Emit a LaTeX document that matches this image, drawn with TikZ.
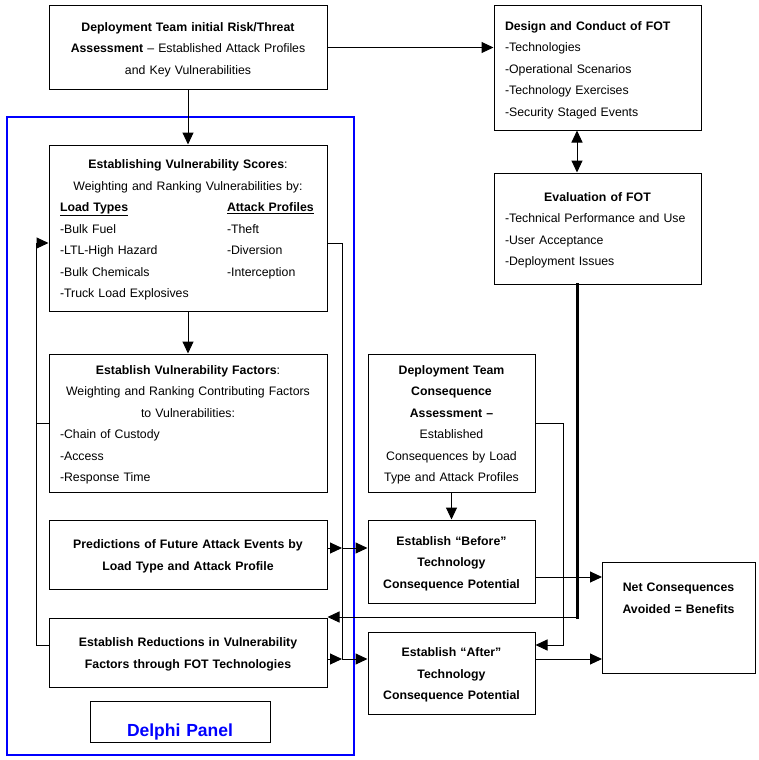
\documentclass[tikz,border=0pt]{standalone}
\usepackage{fontspec}
\setmainfont{Liberation Sans}
\usetikzlibrary{arrows.meta}
\newcommand{\lft}[1]{\makebox[\hsize][l]{#1}}
\newcommand{\twocol}[2]{\lft{\makebox[167pt][l]{#1}#2}}

\begin{document}
\begin{tikzpicture}[x=1pt,y=-1pt]
    \tikzset{
        tri/.tip={Triangle[length=12pt,width=11pt]},
        box/.style 2 args={draw, line width=1pt, rectangle, inner xsep=11pt, inner ysep=0pt,
            align=center, text width=#1, minimum height=#2, font=\fontsize{12.3}{21.5}\selectfont,
            execute at begin node=\rule{0pt}{13pt}},
        flow/.style={line width=1pt, -tri},
        link/.style={line width=1pt}
    }
    \useasboundingbox (0,0) rectangle (759,760);
    \draw[blue, line width=2pt] (7,117) rectangle (354,755);

    \node[box={256pt}{83pt}] (risk) at (188,47.5)
        {\textbf{Deployment Team initial Risk/Threat}\\ \textbf{Assessment} – Established Attack Profiles\\ and Key Vulnerabilities};
    \node[box={185pt}{124pt}, align=left] (design) at (597.5,68)
        {\textbf{Design and Conduct of FOT}\\ -Technologies\\ -Operational Scenarios\\ -Technology Exercises\\ -Security Staged Events};
    \node[box={185pt}{111pt}, align=left] (eval) at (597.5,228.5)
        {\hfill\textbf{Evaluation of FOT}\hfill\mbox{}\\ -Technical Performance and Use\\ -User Acceptance\\ -Deployment Issues};
    \node[box={256pt}{166pt}] (scores) at (188,228)
        {\textbf{Establishing Vulnerability Scores}:\\ Weighting and Ranking Vulnerabilities by:\\
        \twocol{\textbf{\underline{Load Types}}}{\textbf{\underline{Attack Profiles}}}\\
        \twocol{-Bulk Fuel}{-Theft}\\ \twocol{-LTL-High Hazard}{-Diversion}\\
        \twocol{-Bulk Chemicals}{-Interception}\\ \lft{-Truck Load Explosives}};
    \node[box={256pt}{138pt}] (factors) at (188,423)
        {\textbf{Establish Vulnerability Factors}:\\ Weighting and Ranking Contributing Factors\\ to Vulnerabilities:\\
        \lft{-Chain of Custody}\\ \lft{-Access}\\ \lft{-Response Time}};
    \node[box={256pt}{69pt}] (predict) at (188,554.5)
        {\textbf{Predictions of Future Attack Events by}\\ \textbf{Load Type and Attack Profile}};
    \node[box={256pt}{69pt}] (reduce) at (188,652.5)
        {\textbf{Establish Reductions in Vulnerability}\\ \textbf{Factors through FOT Technologies}};
    \node[box={158pt}{41pt}, text height=33pt, text depth=4pt, text=blue,
        font=\fontsize{17.5}{20}\selectfont\bfseries] (delphi) at (180,721.5) {Delphi Panel};
    \node[box={145pt}{138pt}] (conseq) at (451.5,423)
        {\textbf{Deployment Team}\\ \textbf{Consequence}\\ \textbf{Assessment –}\\ Established\\ Consequences by Load\\ Type and Attack Profiles};
    \node[box={145pt}{83pt}] (before) at (451.5,561.5)
        {\textbf{Establish “Before”}\\ \textbf{Technology}\\ \textbf{Consequence Potential}};
    \node[box={145pt}{82pt}] (after) at (451.5,673)
        {\textbf{Establish “After”}\\ \textbf{Technology}\\ \textbf{Consequence Potential}};
    \node[box={131pt}{111pt}] (net) at (678.5,617.5)
        {\textbf{Net Consequences}\\ \textbf{Avoided = Benefits}\\ \mbox{}\\ \mbox{}};

    \coordinate (evalturn) at (577,617);
    \coordinate (loopbot) at (36,645);
    \coordinate (looptop) at (36,243);
    \coordinate (scoreturn) at (342,243);
    \coordinate (predjoin) at (342,548);
    \coordinate (redjoin) at (342,659);
    \coordinate (conseqturn) at (563,645);
    \coordinate (beforenet) at (602,577);
    \coordinate (afternet) at (602,659);

    \foreach \a/\b in {risk/scores, scores/factors, conseq/before}{
        \draw[flow] (\a) -- (\b);
    }
    \draw[flow] (risk.east) -- (design.west |- risk.east);
    \draw[link, tri-tri] (design.south -| evalturn) -- (eval.north -| evalturn);
    \draw[line width=3pt, line cap=rect] (eval.south -| evalturn) -- (evalturn);
    \draw[flow] (evalturn) -- (reduce.north east |- evalturn);
    \draw[flow] (reduce.west |- loopbot) -- (loopbot) -- (looptop) -- (scores.west |- looptop);
    \draw[link] (factors.west) -- (factors.west -| loopbot);
    \draw[flow] (scores.east |- scoreturn) -- (scoreturn) -- (redjoin) -- (after.west |- redjoin);
    \draw[flow] (reduce.east |- redjoin) -- (redjoin);
    \draw[flow] (predict.east |- predjoin) -- (predjoin);
    \draw[flow] (predjoin) -- (before.west |- predjoin);
    \draw[flow] (conseq.east) -| (conseqturn) -- (after.east |- conseqturn);
    \draw[flow] (before.east |- beforenet) -- (beforenet);
    \draw[flow] (after.east |- afternet) -- (afternet);
\end{tikzpicture}
\end{document}
